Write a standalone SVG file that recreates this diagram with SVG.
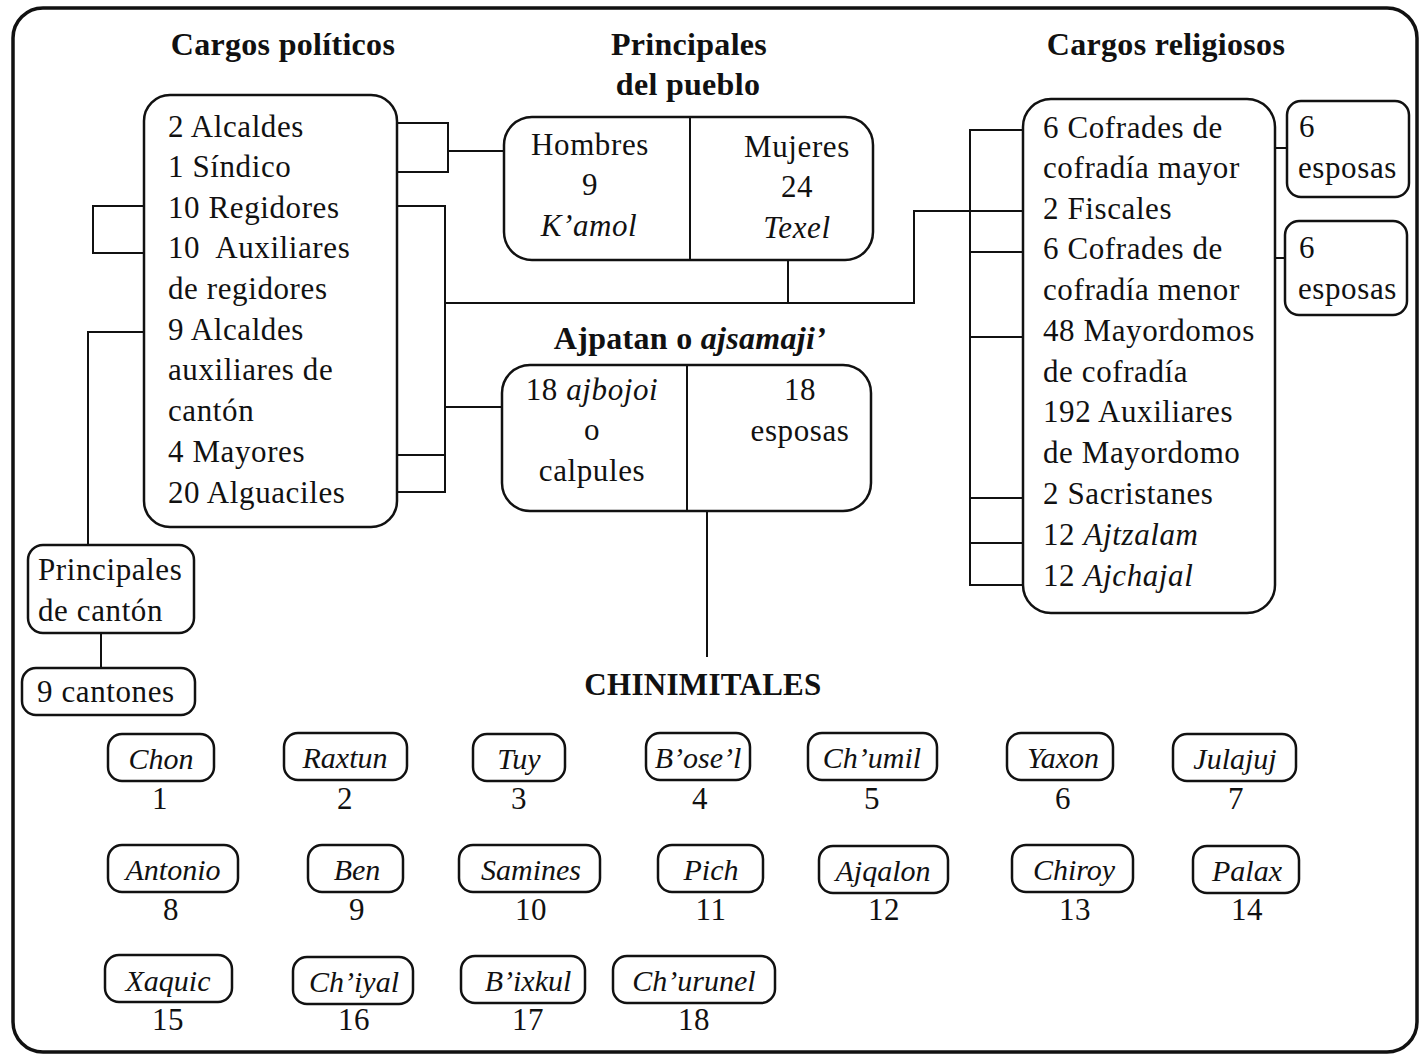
<svg xmlns="http://www.w3.org/2000/svg" width="1428" height="1055" viewBox="0 0 1428 1055">
<style>
text{font-family:"Liberation Serif","Times New Roman",serif;fill:#111;font-size:31px;letter-spacing:0.6px}
.h{font-weight:bold;font-size:32px;letter-spacing:0.3px}
.c{text-anchor:middle}
.i{font-style:italic}
.n{font-style:italic;letter-spacing:0;font-size:30px}
.box{fill:#fff;stroke:#111;stroke-width:2.5}
.ln{fill:none;stroke:#111;stroke-width:2}
.frame{fill:none;stroke:#111;stroke-width:3.5}
</style>
<rect width="1428" height="1055" fill="#fff"/>
<rect class="frame" x="13" y="8" width="1404" height="1044" rx="30"/>

<g id="connectors">
<path class="ln" d="M397,123 H448 V172 H397"/>
<path class="ln" d="M448,151 H504"/>
<path class="ln" d="M397,206 H445 V492 H395"/>
<path class="ln" d="M395,455 H445"/>
<path class="ln" d="M445,407 H503"/>
<path class="ln" d="M445,303 H914 V211 H1024"/>
<path class="ln" d="M788,260 V303"/>
<path class="ln" d="M145,206 H93 V253 H145"/>
<path class="ln" d="M145,332 H88 V545"/>
<path class="ln" d="M101,633 V668"/>
<path class="ln" d="M707,511 V657"/>
<path class="ln" d="M1024,130 H970 V585 H1023"/>
<path class="ln" d="M970,252 H1024 M970,337 H1024 M970,498 H1023 M970,543 H1023"/>
<path class="ln" d="M1275,148 H1287"/>
<path class="ln" d="M1275,258 H1285"/>
</g>

<g id="title-politicos"><text class="h c" x="283" y="55">Cargos políticos</text></g>
<g id="title-pueblo"><text class="h c" x="689" y="55">Principales</text><text class="h c" x="688" y="95">del pueblo</text></g>
<g id="title-religiosos"><text class="h c" x="1166" y="55">Cargos religiosos</text></g>

<g id="cargos-politicos">
<rect class="box" x="144" y="95" width="253" height="432" rx="26"/>
<text x="168" y="137">2 Alcaldes</text>
<text x="168" y="177">1 Síndico</text>
<text x="168" y="218">10 Regidores</text>
<text x="168" y="258" style="white-space:pre">10  Auxiliares</text>
<text x="168" y="299">de regidores</text>
<text x="168" y="340">9 Alcaldes</text>
<text x="168" y="380">auxiliares de</text>
<text x="168" y="421">cantón</text>
<text x="168" y="462">4 Mayores</text>
<text x="168" y="503">20 Alguaciles</text>
</g>

<g id="principales-pueblo">
<rect class="box" x="504" y="117" width="369" height="143" rx="28"/>
<path class="ln" d="M690,117 V260" stroke-width="1.5"/>
<text class="c" x="590" y="155">Hombres</text>
<text class="c" x="590" y="195">9</text>
<text class="c i" x="589" y="236">K’amol</text>
<text class="c" x="797" y="157">Mujeres</text>
<text class="c" x="797" y="197">24</text>
<text class="c i" x="797" y="238">Texel</text>
</g>

<g id="title-ajpatan"><text class="h c" x="690" y="349">Ajpatan o <tspan class="i">ajsamaji’</tspan></text></g>

<g id="ajpatan">
<rect class="box" x="502" y="365" width="369" height="146" rx="28"/>
<path class="ln" d="M687,365 V511" stroke-width="1.5"/>
<text class="c" x="592" y="400">18 <tspan class="i">ajbojoi</tspan></text>
<text class="c" x="592" y="440">o</text>
<text class="c" x="592" y="481">calpules</text>
<text class="c" x="800" y="400">18</text>
<text class="c" x="800" y="441">esposas</text>
</g>

<g id="cargos-religiosos">
<rect class="box" x="1023" y="99" width="252" height="514" rx="28"/>
<text x="1043" y="138">6 Cofrades de</text>
<text x="1043" y="178">cofradía mayor</text>
<text x="1043" y="219">2 Fiscales</text>
<text x="1043" y="259">6 Cofrades de</text>
<text x="1043" y="300">cofradía menor</text>
<text x="1043" y="341">48 Mayordomos</text>
<text x="1043" y="382">de cofradía</text>
<text x="1043" y="422">192 Auxiliares</text>
<text x="1043" y="463">de Mayordomo</text>
<text x="1043" y="504">2 Sacristanes</text>
<text x="1043" y="545">12 <tspan class="i">Ajtzalam</tspan></text>
<text x="1043" y="586">12 <tspan class="i">Ajchajal</tspan></text>
</g>

<g id="esposas-mayor">
<rect class="box" x="1287" y="101" width="122" height="96" rx="14"/>
<text x="1299" y="137">6</text>
<text x="1298" y="178">esposas</text>
</g>
<g id="esposas-menor">
<rect class="box" x="1285" y="221" width="122" height="94" rx="14"/>
<text x="1299" y="258">6</text>
<text x="1298" y="299">esposas</text>
</g>

<g id="principales-canton">
<rect class="box" x="28" y="545" width="166" height="88" rx="15"/>
<text x="38" y="580">Principales</text>
<text x="38" y="621">de cantón</text>
</g>
<g id="cantones">
<rect class="box" x="22" y="668" width="173" height="47" rx="14"/>
<text x="37" y="702">9 cantones</text>
</g>

<g id="title-chinimitales"><text class="h c" x="703" y="695" style="font-size:31px">CHINIMITALES</text></g>

<g id="ch-1"><rect class="box" x="108" y="734" width="106" height="47" rx="14"/><text class="c n" x="161" y="769">Chon</text><text class="c" x="160" y="809">1</text></g>
<g id="ch-2"><rect class="box" x="284" y="733" width="123" height="47" rx="14"/><text class="c n" x="345" y="768">Raxtun</text><text class="c" x="345" y="809">2</text></g>
<g id="ch-3"><rect class="box" x="473" y="734" width="92" height="47" rx="14"/><text class="c n" x="519" y="769">Tuy</text><text class="c" x="519" y="809">3</text></g>
<g id="ch-4"><rect class="box" x="646" y="733" width="104" height="47" rx="14"/><text class="c n" x="698" y="768">B’ose’l</text><text class="c" x="700" y="809">4</text></g>
<g id="ch-5"><rect class="box" x="808" y="733" width="129" height="47" rx="14"/><text class="c n" x="872" y="768">Ch’umil</text><text class="c" x="872" y="809">5</text></g>
<g id="ch-6"><rect class="box" x="1007" y="733" width="106" height="47" rx="14"/><text class="c n" x="1063" y="768">Yaxon</text><text class="c" x="1063" y="809">6</text></g>
<g id="ch-7"><rect class="box" x="1173" y="734" width="123" height="47" rx="14"/><text class="c n" x="1235" y="769">Julajuj</text><text class="c" x="1236" y="809">7</text></g>

<g id="ch-8"><rect class="box" x="108" y="845" width="130" height="47" rx="14"/><text class="c n" x="173" y="880">Antonio</text><text class="c" x="171" y="920">8</text></g>
<g id="ch-9"><rect class="box" x="308" y="845" width="95" height="47" rx="14"/><text class="c n" x="357" y="880">Ben</text><text class="c" x="357" y="920">9</text></g>
<g id="ch-10"><rect class="box" x="459" y="845" width="141" height="47" rx="14"/><text class="c n" x="531" y="880">Samines</text><text class="c" x="531" y="920">10</text></g>
<g id="ch-11"><rect class="box" x="658" y="845" width="105" height="47" rx="14"/><text class="c n" x="711" y="880">Pich</text><text class="c" x="711" y="920">11</text></g>
<g id="ch-12"><rect class="box" x="819" y="846" width="129" height="47" rx="14"/><text class="c n" x="883" y="881">Ajqalon</text><text class="c" x="884" y="920">12</text></g>
<g id="ch-13"><rect class="box" x="1012" y="845" width="121" height="47" rx="14"/><text class="c n" x="1074" y="880">Chiroy</text><text class="c" x="1075" y="920">13</text></g>
<g id="ch-14"><rect class="box" x="1193" y="846" width="106" height="47" rx="14"/><text class="c n" x="1247" y="881">Palax</text><text class="c" x="1247" y="920">14</text></g>

<g id="ch-15"><rect class="box" x="105" y="955" width="127" height="47" rx="14"/><text class="c n" x="168" y="991">Xaquic</text><text class="c" x="168" y="1030">15</text></g>
<g id="ch-16"><rect class="box" x="293" y="957" width="120" height="47" rx="14"/><text class="c n" x="354" y="992">Ch’iyal</text><text class="c" x="354" y="1030">16</text></g>
<g id="ch-17"><rect class="box" x="461" y="956" width="124" height="47" rx="14"/><text class="c n" x="528" y="991">B’ixkul</text><text class="c" x="528" y="1030">17</text></g>
<g id="ch-18"><rect class="box" x="613" y="956" width="162" height="47" rx="14"/><text class="c n" x="694" y="991">Ch’urunel</text><text class="c" x="694" y="1030">18</text></g>
</svg>
